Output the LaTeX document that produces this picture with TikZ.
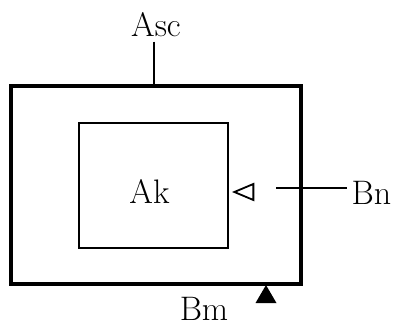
\documentclass[tikz,border=0pt]{standalone}
\usepackage{fontspec}
\usetikzlibrary{shapes.geometric}
\tikzset{
  conn/.style={draw=black, line width=0.9pt},
  frame/.style={
    draw=black,
    rectangle,
    line width=1.7pt,
    inner sep=0pt,
    minimum width=145pt,
    minimum height=99pt
  },
  core/.style={
    draw=black,
    rectangle,
    line width=0.9pt,
    inner sep=0pt,
    minimum width=74.5pt,
    minimum height=62.5pt
  },
  lbl/.style={font=\fontsize{17}{20}\selectfont, inner sep=2pt},
  opentri/.style={
    draw=black, line width=0.9pt, fill=white,
    isosceles triangle, isosceles triangle stretches,
    shape border rotate=180, inner sep=0pt,
    minimum width=8pt, minimum height=9.5pt
  },
  solidtri/.style={
    fill=black,
    isosceles triangle, isosceles triangle stretches,
    shape border rotate=90, inner sep=0pt,
    minimum width=10.5pt, minimum height=9pt
  }
}
\begin{document}
\begin{tikzpicture}[x=0.5pt, y=-0.5pt]
  \useasboundingbox (0,0) rectangle (397,331);

  \node[frame] (outer) at (156,185) {};
  \node[core] (inner) at (153.5,185.5) {};

  \node[lbl] (asc) at (156,25) {Asc};
  \node[lbl] (ak) at (149.5,191) {Ak};
  \node[lbl] (bn) at (371.5,193) {Bn};
  \node[lbl] (bm) at (204,309) {Bm};

  \node[opentri, anchor=apex] (mark) at (232,192) {};
  \node[solidtri, anchor=apex] (pin) at (266,284) {};

  \coordinate (bnstart) at (276,188);

  \draw[conn] ([xshift=-1pt]asc.south) -- ([xshift=-1pt]asc.south |- outer.north);
  \draw[conn] (bnstart) -- (bnstart -| bn.west);
\end{tikzpicture}
\end{document}
